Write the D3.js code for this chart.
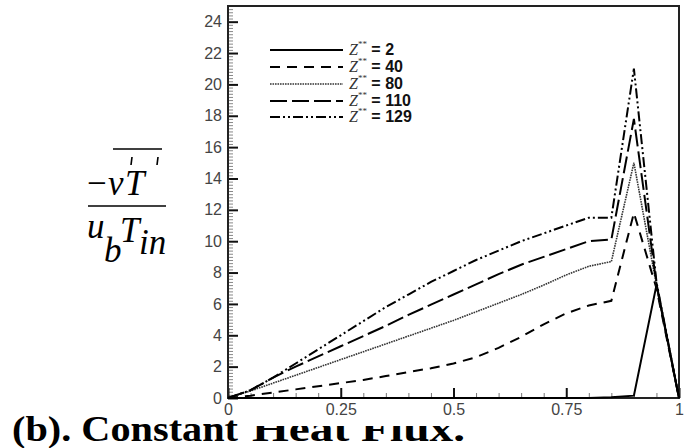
<!DOCTYPE html>
<html>
<head>
<meta charset="utf-8">
<script src="https://cdn.jsdelivr.net/npm/d3@7"></script>
<style>
  html, body { margin: 0; padding: 0; background: #fff; }
  svg { display: block; }
  .serif { font-family: "Liberation Serif", "Times New Roman", serif; }
  .sans { font-family: "Liberation Sans", Arial, sans-serif; }
</style>
</head>
<body>
<svg id="chart" width="687" height="448"></svg>
<script>
// Wall-normal position (normalised) at which every profile is sampled
const xPos = [0, 0.05, 0.1, 0.15, 0.2, 0.25, 0.3, 0.35, 0.4, 0.45, 0.5,
              0.55, 0.6, 0.65, 0.7, 0.75, 0.8, 0.85, 0.9, 0.95, 1];

// Turbulent heat flux -v'T'/(u_b T_in) at each axial station Z*
const fluxZ2   = [0, 0, 0, 0, 0, 0, 0, 0, 0, 0, 0, 0, 0, 0, 0, 0, 0, 0.05, 0.15, 7.2, 0];
const fluxZ40  = [0, 0.15, 0.35, 0.55, 0.75, 0.95, 1.15, 1.4, 1.65, 1.9, 2.2,
                  2.6, 3.2, 3.9, 4.7, 5.4, 5.9, 6.2, 11.8, 7.0, 0];
const fluxZ80  = [0, 0.45, 0.95, 1.45, 1.95, 2.45, 2.95, 3.45, 3.95, 4.45, 4.95,
                  5.5, 6.05, 6.6, 7.2, 7.85, 8.4, 8.7, 15.0, 7.2, 0];
const fluxZ110 = [0, 0.5, 1.3, 2.0, 2.65, 3.3, 3.95, 4.6, 5.3, 5.95, 6.6,
                  7.25, 7.9, 8.5, 9.0, 9.5, 10.0, 10.1, 17.8, 7.3, 0];
const fluxZ129 = [0, 0.5, 1.3, 2.2, 3.1, 4.0, 4.9, 5.8, 6.6, 7.4, 8.1,
                  8.8, 9.4, 10.0, 10.5, 11.0, 11.5, 11.5, 21.0, 7.4, 0];

const stations = ["2", "40", "80", "110", "129"];
const seriesValues = [fluxZ2, fluxZ40, fluxZ80, fluxZ110, fluxZ129];

const xTicks = [0, 0.25, 0.5, 0.75, 1];
const xTickLabels = ["0", "0.25", "0.5", "0.75", "1"];
const yTicks = [0, 2, 4, 6, 8, 10, 12, 14, 16, 18, 20, 22, 24];

// line style per station
const dashes = [null, "10,7", "1.6,0.9", "17,5", "10,3,2,3,2,3"];
const widths = [2, 2, 1.6, 2, 2];

const svg = d3.select("#chart");
const plotL = 228, plotR = 679, plotT = 6, plotB = 398;

const x = d3.scaleLinear().domain([0, 1]).range([plotL, plotR]);
const y = d3.scaleLinear().domain([0, 25]).range([plotB, plotT]);

// minor ticks
const xMinor = d3.range(0, 1.0001, 0.05).filter(v => Math.abs(v * 4 - Math.round(v * 4)) > 1e-6);
const yMinor = d3.range(0, 25.0001, 0.2).filter(v => Math.abs(v / 2 - Math.round(v / 2)) > 1e-6);

svg.append("g")
  .attr("transform", `translate(0,${plotB})`)
  .call(d3.axisBottom(x).tickValues(xMinor).tickSize(-5).tickFormat(""))
  .call(g => g.select(".domain").remove())
  .call(g => g.selectAll("line").attr("stroke", "#777").attr("stroke-width", 1));

svg.append("g")
  .attr("transform", `translate(${plotL},0)`)
  .call(d3.axisLeft(y).tickValues(yMinor).tickSize(-5).tickFormat(""))
  .call(g => g.select(".domain").remove())
  .call(g => g.selectAll("line").attr("stroke", "#888").attr("stroke-width", 1));

svg.append("g")
  .attr("transform", `translate(0,${plotB})`)
  .call(d3.axisBottom(x).tickValues(xTicks).tickSize(-10).tickPadding(6)
          .tickFormat((d, i) => xTickLabels[i]))
  .call(g => g.select(".domain").remove())
  .call(g => g.selectAll("line").attr("stroke", "#111").attr("stroke-width", 2))
  .call(g => g.selectAll("text").attr("class", "sans")
                .attr("font-size", 16).attr("fill", "#444"));

svg.append("g")
  .attr("transform", `translate(${plotL},0)`)
  .call(d3.axisLeft(y).tickValues(yTicks).tickSize(-10).tickPadding(6)
          .tickFormat(d3.format("d")))
  .call(g => g.select(".domain").remove())
  .call(g => g.selectAll("line").attr("stroke", "#111").attr("stroke-width", 2))
  .call(g => g.selectAll("text").attr("class", "sans")
                .attr("font-size", 16).attr("fill", "#444"));
svg.selectAll("g").attr("font-family", null).attr("font-size", null);

// frame
svg.append("rect")
  .attr("x", plotL).attr("y", plotT)
  .attr("width", plotR - plotL).attr("height", plotB - plotT)
  .attr("fill", "none").attr("stroke", "#222").attr("stroke-width", 2);

// profiles
const line = d3.line().x((d, i) => x(xPos[i])).y(d => y(d));
seriesValues.forEach((vals, k) => {
  svg.append("path")
    .datum(vals)
    .attr("d", line)
    .attr("fill", "none")
    .attr("stroke", k === 2 ? "#333" : "#000")
    .attr("stroke-width", widths[k])
    .attr("stroke-dasharray", dashes[k])
    .attr("stroke-linejoin", "miter");
});

// legend
const legRows = [50, 67, 84, 101, 117];
stations.forEach((s, k) => {
  const ly = legRows[k];
  svg.append("line")
    .attr("x1", 270).attr("x2", 343).attr("y1", ly).attr("y2", ly)
    .attr("stroke", k === 2 ? "#333" : "#000")
    .attr("stroke-width", widths[k])
    .attr("stroke-dasharray", dashes[k]);
  const t = svg.append("text").attr("x", 349).attr("y", ly + 5);
  t.append("tspan").attr("class", "serif")
    .attr("font-style", "italic").attr("font-size", 16).attr("fill", "#333")
    .text("Z");
  t.append("tspan").attr("class", "serif")
    .attr("font-size", 9).attr("dy", -8).attr("fill", "#333")
    .text("**");
  t.append("tspan").attr("class", "sans").attr("font-weight", "bold")
    .attr("font-size", 16).attr("dy", 8).attr("fill", "#111")
    .text(" = " + s);
});

// y-axis title: -v'T' / (u_b T_in)
const yl = svg.append("g").attr("class", "serif").attr("fill", "#000");
const it = (tx, ty, s, size) => yl.append("text").attr("x", tx).attr("y", ty)
  .attr("font-size", size || 35).attr("font-style", "italic").text(s);
yl.append("text").attr("x", 87).attr("y", 195).attr("font-size", 35).text("\u2212");
it(108, 195, "v");
it(125, 195, "T");
// primes drawn as short strokes under the overbar
[[132, 157, 131, 165], [158, 157, 157, 165]].forEach(([x1, y1, x2, y2]) =>
  yl.append("line").attr("x1", x1).attr("y1", y1).attr("x2", x2).attr("y2", y2)
    .attr("stroke", "#000").attr("stroke-width", 1.6));
yl.append("line").attr("x1", 113).attr("x2", 162).attr("y1", 149).attr("y2", 149)
  .attr("stroke", "#000").attr("stroke-width", 1.5);
yl.append("line").attr("x1", 88).attr("x2", 166).attr("y1", 206).attr("y2", 206)
  .attr("stroke", "#000").attr("stroke-width", 1.5);
it(87, 238, "u");
it(104, 262, "b");
it(120, 242, "T");
it(139, 254, "in");

// caption; the second half is clipped along its top
svg.append("defs").append("clipPath").attr("id", "capClip")
  .append("rect").attr("x", 240).attr("y", 426).attr("width", 260).attr("height", 30);
svg.append("text").attr("class", "serif")
  .attr("x", 12).attr("y", 441)
  .attr("font-weight", "bold").attr("font-size", 36)
  .attr("textLength", 226).attr("lengthAdjust", "spacingAndGlyphs")
  .text("(b). Constant");
svg.append("text").attr("class", "serif")
  .attr("x", 252).attr("y", 441)
  .attr("clip-path", "url(#capClip)")
  .attr("font-weight", "bold").attr("font-size", 36)
  .attr("textLength", 213).attr("lengthAdjust", "spacingAndGlyphs")
  .text("Heat Flux.");
</script>
</body>
</html>
